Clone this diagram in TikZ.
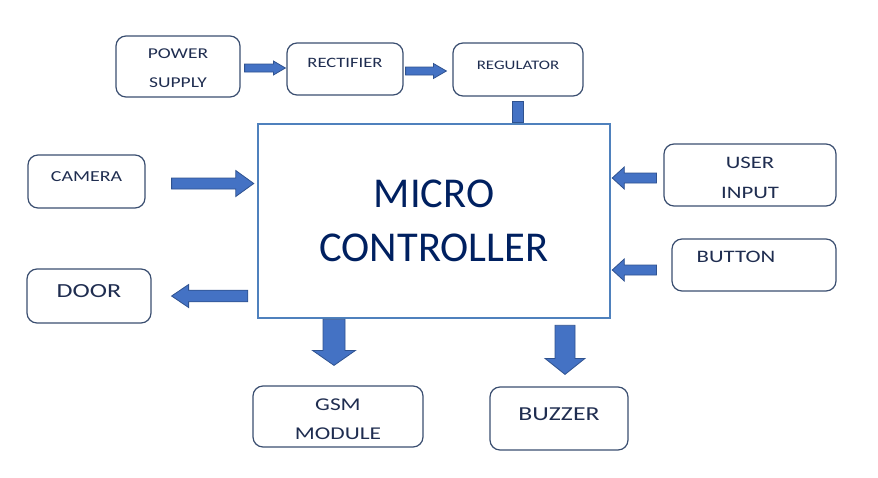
\documentclass[tikz,border=0pt]{standalone}
\usepackage{fontspec}
\setmainfont{Carlito}
\newfontfamily\boxfont[FakeStretch=1.3]{Carlito}
\usetikzlibrary{calc}

\definecolor{arrfill}{RGB}{68,114,196}
\definecolor{arredge}{RGB}{47,82,143}
\definecolor{boxline}{RGB}{58,78,112}
\definecolor{boxtxt}{RGB}{31,45,80}
\definecolor{mcline}{RGB}{79,129,189}
\definecolor{mctxt}{RGB}{0,32,96}

\tikzset{
  blk/.style={draw=boxline, line width=1.2pt, rounded corners=10pt,
    text=boxtxt, inner sep=0pt, align=center},
  fs/.style={font=\boxfont\fontsize{#1}{29.5}\selectfont},
  lift/.style={text depth=#1},
  sink/.style={text height=#1},
  arr/.style={fill=arrfill, draw=arredge, line width=0.8pt},
  % block arrows: shaft half width, head half width, head length
  hfat/.style n args={3}{to path={let \p1=(\tikztostart), \p2=(\tikztotarget),
      \n1={sign(\x2-\x1)*#3} in
      ({\x1},{\y1+#1}) -- ({\x2-(\n1)*1pt},{\y1+#1}) -- ({\x2-(\n1)*1pt},{\y1+#2})
      -- ({\x2},{\y1}) -- ({\x2-(\n1)*1pt},{\y1-#2}) -- ({\x2-(\n1)*1pt},{\y1-#1})
      -- ({\x1},{\y1-#1}) -- cycle}},
  vfat/.style n args={3}{to path={let \p1=(\tikztostart), \p2=(\tikztotarget),
      \n1={sign(\y2-\y1)*#3} in
      ({\x1+#1},{\y1}) -- ({\x1+#1},{\y2-(\n1)*1pt}) -- ({\x1+#2},{\y2-(\n1)*1pt})
      -- ({\x1},{\y2}) -- ({\x1-#2},{\y2-(\n1)*1pt}) -- ({\x1-#1},{\y2-(\n1)*1pt})
      -- ({\x1-#1},{\y1}) -- cycle}},
}

\begin{document}
\begin{tikzpicture}[x=1pt, y=-1pt]
  \useasboundingbox (0,0) rectangle (878,477);

  % power chain
  \node[blk, fs=15, sink=43pt, minimum width=124pt, minimum height=61pt] (ps) at (178,66.5) {POWER\\SUPPLY};
  \node[blk, fs=14.3, lift=12pt, minimum width=116pt, minimum height=52pt] (rect) at (345,69) {RECTIFIER};
  \node[blk, fs=13, lift=9pt, minimum width=130pt, minimum height=53pt] (reg) at (518,69.5) {REGULATOR};

  \node[draw=mcline, line width=2.5pt, minimum width=352pt, minimum height=194pt,
    text=mctxt, font=\fontsize{42.5}{54}\selectfont, align=center] (mc) at (434,221) {MICRO\\CONTROLLER};

  % inputs and outputs
  \node[blk, fs=15.3, lift=9pt, minimum width=117pt, minimum height=53pt] (cam) at (86.5,181.5) {CAMERA};
  \node[blk, fs=20, lift=10pt, minimum width=124pt, minimum height=54pt] (door) at (89,296) {DOOR};
  \node[blk, fs=17.5, sink=46.5pt, minimum width=172pt, minimum height=62pt] (user) at (750,175) {USER\\INPUT};
  \node[blk, fs=17.5, lift=16pt, minimum width=164pt, minimum height=52pt] (btn) at (754,265) {BUTTON\hspace*{36pt}};
  \node[blk, fs=18, sink=47pt, minimum width=170pt, minimum height=61pt] (gsm) at (338,416.5) {GSM\\MODULE};
  \node[blk, fs=19.8, lift=9pt, minimum width=138pt, minimum height=63pt] (buzz) at (559,418.5) {BUZZER};

  \draw[arr, hfat={4pt}{7pt}{12}] ([xshift=4pt,yshift=-1.5pt]ps.east) to ([xshift=-1pt]rect.west);
  \draw[arr, hfat={4pt}{7.5pt}{13}] ([xshift=2pt,yshift=-2pt]rect.east) to ([xshift=-6pt]reg.west);
  \draw[arr] ([xshift=-5.5pt,yshift=-5pt]reg.south) rectangle ([xshift=5.5pt]reg.south |- mc.north);

  \draw[arr, hfat={5.5pt}{13pt}{18}] ([xshift=26pt,yshift=-2pt]cam.east) to ([xshift=-3pt]mc.west);
  \draw[arr, hfat={5.8pt}{11.5pt}{17}] ([xshift=-9pt]mc.west |- door.east) to ([xshift=20pt]door.east);
  \draw[arr, hfat={5pt}{11pt}{12}] ([xshift=-7pt,yshift=-3pt]user.west) to ([xshift=1pt]mc.east);
  \draw[arr, hfat={5pt}{11pt}{12}] ([xshift=-15pt,yshift=-5pt]btn.west) to ([xshift=1pt]mc.east);
  \draw[arr, vfat={11pt}{21.5pt}{15}] ([xshift=-4pt]mc.south -| gsm.north) to ([xshift=-4pt,yshift=20pt]gsm.north);
  \draw[arr, vfat={10pt}{20pt}{16}] ([xshift=6pt,yshift=-6pt]mc.south -| buzz.north) to ([yshift=12pt]buzz.north);
\end{tikzpicture}
\end{document}
